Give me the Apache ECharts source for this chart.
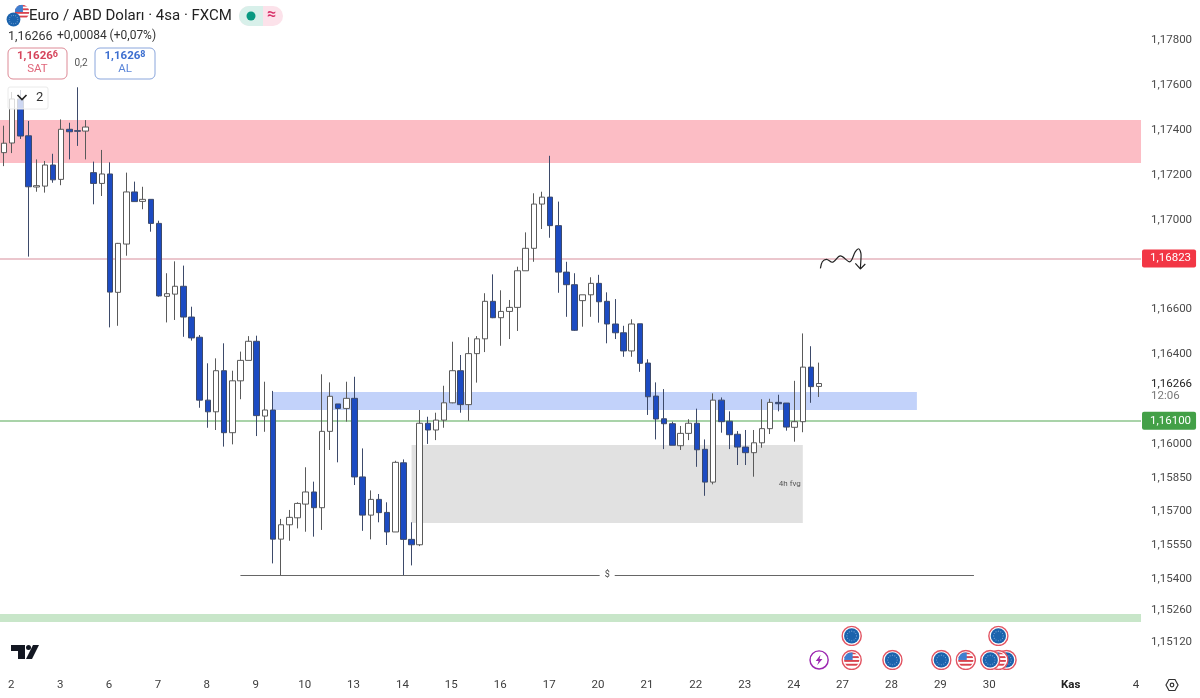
<!DOCTYPE html>
<html><head><meta charset="utf-8">
<style>html,body{margin:0;padding:0;background:#fff}#c{width:1200px;height:698px}</style>
<script src="https://cdn.jsdelivr.net/npm/echarts@6/dist/echarts.min.js"></script>
</head><body><div id="c"></div>
<script>
// [open, close, low, high]
var candles = [
[1.17294,1.17336,1.17234,1.17414],[1.17337,1.17533,1.17292,1.17564],[1.17533,1.17368,1.17355,1.17573],[1.17369,1.17142,1.16831,1.17435],
[1.17141,1.17147,1.17120,1.17264],[1.17145,1.17239,1.17116,1.17257],[1.17239,1.17173,1.17160,1.17289],[1.17175,1.17398,1.17149,1.17442],
[1.17398,1.17387,1.17264,1.17427],[1.17392,1.17389,1.17324,1.17585],[1.17390,1.17408,1.17264,1.17439],[1.17205,1.17157,1.17064,1.17254],
[1.17157,1.17199,1.17101,1.17306],[1.17199,1.16673,1.16516,1.17251],[1.16672,1.16890,1.16523,1.16892],[1.16887,1.17119,1.16835,1.17205],
[1.17119,1.17076,1.17076,1.17165],[1.17077,1.17086,1.17042,1.17142],[1.17086,1.16979,1.16942,1.17086],[1.16979,1.16656,1.16653,1.16991],
[1.16654,1.16666,1.16538,1.16757],[1.16664,1.16699,1.16549,1.16810],[1.16699,1.16562,1.16474,1.16791],[1.16562,1.16469,1.16457,1.16608],
[1.16472,1.16192,1.16158,1.16482],[1.16192,1.16140,1.16069,1.16356],[1.16140,1.16323,1.16059,1.16378],[1.16323,1.16047,1.15985,1.16445],
[1.16047,1.16278,1.15995,1.16323],[1.16278,1.16369,1.16196,1.16408],[1.16369,1.16454,1.16369,1.16477],[1.16454,1.16123,1.16032,1.16479],
[1.16121,1.16148,1.16051,1.16274],[1.16148,1.15573,1.15465,1.16233],[1.15573,1.15637,1.15413,1.15663],[1.15637,1.15670,1.15566,1.15703],
[1.15668,1.15732,1.15621,1.15737],[1.15729,1.15783,1.15606,1.15893],[1.15783,1.15713,1.15584,1.15829],[1.15713,1.16053,1.15614,1.16307],
[1.16053,1.16209,1.15970,1.16271],[1.16175,1.16155,1.15915,1.16175],[1.16155,1.16200,1.16096,1.16274],[1.16200,1.15850,1.15814,1.16296],
[1.15850,1.15680,1.15610,1.15977],[1.15680,1.15750,1.15572,1.15790],[1.15750,1.15691,1.15648,1.15774],[1.15692,1.15605,1.15547,1.15737],
[1.15605,1.15915,1.15605,1.15922],[1.15913,1.15572,1.15413,1.15928],[1.15572,1.15548,1.15456,1.15648],[1.15548,1.16089,1.15542,1.16148],
[1.16089,1.16059,1.15997,1.16118],[1.16059,1.16103,1.16014,1.16136],[1.16103,1.16180,1.16069,1.16256],[1.16180,1.16323,1.16178,1.16452],
[1.16323,1.16172,1.16136,1.16393],[1.16172,1.16399,1.16100,1.16472],[1.16399,1.16465,1.16270,1.16477],[1.16465,1.16632,1.16406,1.16668],
[1.16632,1.16559,1.16557,1.16752],[1.16559,1.16587,1.16434,1.16681],[1.16587,1.16605,1.16464,1.16638],[1.16605,1.16768,1.16500,1.16786],
[1.16768,1.16868,1.16768,1.16939],[1.16868,1.17065,1.16808,1.17113],[1.17065,1.17096,1.16954,1.17120],[1.17096,1.16969,1.16915,1.17280],
[1.16969,1.16762,1.16670,1.17076],[1.16762,1.16706,1.16563,1.16808],[1.16706,1.16503,1.16500,1.16757],[1.16635,1.16661,1.16519,1.16661],
[1.16661,1.16712,1.16563,1.16739],[1.16712,1.16630,1.16537,1.16750],[1.16632,1.16531,1.16445,1.16672],[1.16531,1.16492,1.16464,1.16642],
[1.16492,1.16411,1.16385,1.16523],[1.16411,1.16531,1.16385,1.16552],[1.16532,1.16356,1.16318,1.16532],[1.16357,1.16207,1.16126,1.16374],
[1.16210,1.16108,1.16017,1.16271],[1.16109,1.16087,1.15974,1.16241],[1.16087,1.15991,1.15991,1.16096],[1.15989,1.16044,1.15970,1.16077],
[1.16044,1.16089,1.16014,1.16107],[1.16089,1.15971,1.15895,1.16154],[1.15973,1.15827,1.15766,1.16017],[1.15827,1.16192,1.15817,1.16222],
[1.16192,1.16096,1.16047,1.16204],[1.16098,1.16038,1.15974,1.16142],[1.16040,1.15983,1.15903,1.16054],[1.15983,1.15958,1.15903,1.16059],
[1.15958,1.16002,1.15851,1.16059],[1.16002,1.16065,1.15980,1.16196],[1.16065,1.16182,1.16041,1.16198],[1.16182,1.16176,1.16142,1.16216],
[1.16179,1.16072,1.16056,1.16179],[1.16071,1.16096,1.16007,1.16278],[1.16096,1.16339,1.16049,1.16489],[1.16339,1.16252,1.16180,1.16432],
[1.16253,1.16266,1.16206,1.16359]];
var slotCount = 140;
var tickLabels = ['2','3','6','7','8','9','10','13','14','15','16','17','20','21','22','23','24','27','28','29','30','Kas','4'];
var tickSlots  = [1,7,13,19,25,31,37,43,49,55,61,67,73,79,85,91,97,103,109,115,121,131,139];
var priceTicks = [1.178,1.176,1.174,1.172,1.170,1.166,1.164,1.16266,1.160,1.1585,1.157,1.1555,1.154,1.1526,1.1512];
var lastPrice = 1.16266, resistance = 1.16823, support = 1.16100, liquidity = 1.15413;
var redZone = [1.17248,1.17439], blueZone = [1.16148,1.16228], greyZone = [1.15645,1.15992], greenZone = [1.15204,1.15240];
var blueZoneSlots = [33,112], greyZoneSlots = [50,98], liquiditySlots = [29,119];
var scribbleSlots  = [100.16,100.4,100.9,101.6,102.6,103.75,104.45,104.85,105.15,105.06];
var scribblePrices = [1.16779,1.16808,1.16819,1.16806,1.16834,1.16808,1.16853,1.16866,1.16838,1.16779];
var arrowSlots  = [104.45,105.06,105.67];
var arrowPrices = [1.16801,1.16776,1.16798];
var eventSlots  = [100,104,104,109,115,118,123,122,121,122];
var eventPrices = [1.15035,1.15035,1.15142,1.15035,1.15035,1.15035,1.15035,1.15035,1.15035,1.15142];
var eventKinds  = ['bolt','us','eu','eu','eu','us','eu','us','eu','eu'];

function svg(s){return 'image://data:image/svg+xml;charset=utf-8,'+encodeURIComponent('<svg xmlns="http://www.w3.org/2000/svg" width="88" height="88" viewBox="0 0 44 44">'+s+'</svg>');}
var dots='';[[22,12],[27,13.4],[30.6,17],[32,22],[30.6,27],[27,30.6],[22,32],[17,30.6],[13.4,27],[12,22],[13.4,17],[17,13.4]].forEach(function(p){dots+='<circle cx="'+p[0]+'" cy="'+p[1]+'" r="1.2" fill="#7fa8d8"/>';});
var ring='<circle cx="22" cy="22" r="20" fill="#fff" stroke="#e25563" stroke-width="3"/>';
var euFace='<circle cx="22" cy="22" r="16" fill="#1b63ad"/>'+dots;
var usFace='<clipPath id="k"><circle cx="22" cy="22" r="16"/></clipPath><g clip-path="url(#k)"><rect x="0" y="0" width="44" height="44" fill="#fff"/><rect x="0" y="6" width="44" height="4" fill="#d9434e"/><rect x="0" y="14" width="44" height="4" fill="#d9434e"/><rect x="0" y="22" width="44" height="4" fill="#d9434e"/><rect x="0" y="30" width="44" height="4" fill="#d9434e"/><rect x="6" y="6" width="18" height="16" fill="#3f7fd0"/></g>';
var icons={
  eu:svg(ring+euFace),
  us:svg(ring+usFace),
  bolt:svg('<circle cx="22" cy="22" r="19" fill="#fff" stroke="#9c27b0" stroke-width="3"/><path d="M25 11 L15 24 H21 L18 33 L29 20 H23 Z" fill="#9c27b0"/>')
};
var usBare=svg(usFace), euBare=svg(euFace);

function comma(v){return v.toFixed(5).replace('.',',');}
var tickText={};tickSlots.forEach(function(s,i){tickText[s]=tickLabels[i];});
var categories=[];for(var i=0;i<slotCount;i++)categories.push(String(i));

var chart=echarts.init(document.getElementById('c'),null,{renderer:'canvas'});
var FF='Roboto, sans-serif';
function scatterData(){return eventSlots.map(function(s,i){return {value:[s,eventPrices[i]],symbol:icons[eventKinds[i]]};});}
chart.setOption({
  animation:false,backgroundColor:'#ffffff',
  textStyle:{fontFamily:FF},
  grid:{left:-1.38,top:0,width:1142.4,height:672,containLabel:false},
  xAxis:[{type:'category',data:categories,boundaryGap:true,
      axisLine:{show:false},axisTick:{show:false},splitLine:{show:false},
      axisLabel:{interval:0,margin:7,fontSize:11.5,color:'#3d3d3d',fontFamily:FF,hideOverlap:false,padding:[0,2,0,0],
        formatter:function(v,idx){var t=tickText[idx];if(!t)return '';return t==='Kas'?'{b|Kas}':t;},
        rich:{b:{fontWeight:'bold',fontSize:11.5,color:'#222',fontFamily:FF}}}},
    {type:'value',min:-0.5,max:139.5,show:false}],
  yAxis:{type:'value',position:'right',min:1.149814,max:1.179737,scale:true,
    axisLine:{show:false},axisTick:{show:false},splitLine:{show:false},
    axisLabel:{customValues:priceTicks,margin:10,fontSize:11.5,fontFamily:FF,showMinLabel:true,showMaxLabel:true,
      color:function(v){return Math.abs(v-lastPrice)<1e-6?'#222':'#4a4a4a';},
      formatter:function(v){return '{v|'+comma(v)+'}';},
      rich:{v:{fontSize:11.5,fontFamily:FF,padding:[2,0,0,0]}}}},
  series:[
   {type:'candlestick',name:'EURUSD',data:candles,xAxisIndex:0,barWidth:6,z:3,
    itemStyle:{color:'#ffffff',color0:'#1c4bc2',borderColor:'#5a5a5a',borderColor0:'#3d4a6a',borderWidth:1},
    markArea:{silent:true,z:1,itemStyle:{opacity:1},data:[
      [{yAxis:redZone[1],itemStyle:{color:'#fcbdc5'}},{yAxis:redZone[0]}],
      [{xAxis:greyZoneSlots[0],yAxis:greyZone[1],itemStyle:{color:'#e1e1e1'},
        label:{show:true,formatter:'4h fvg',position:'insideRight',distance:2,fontSize:8,color:'#555',fontFamily:FF}},
       {xAxis:greyZoneSlots[1],yAxis:greyZone[0]}],
      [{xAxis:blueZoneSlots[0],yAxis:blueZone[1],itemStyle:{color:'#c2d2fa'}},{xAxis:blueZoneSlots[1],yAxis:blueZone[0]}],
      [{yAxis:greenZone[1],itemStyle:{color:'#c8e6c9'}},{yAxis:greenZone[0]}]
    ]},
    markLine:{silent:true,z:2,symbol:'none',precision:5,animation:false,data:[
      {yAxis:resistance,lineStyle:{color:'#e5b3bc',width:1.5,type:'solid'},
       label:{show:true,position:'end',distance:1,formatter:function(p){return comma(resistance);},backgroundColor:'#f23645',color:'#fff',fontSize:11.5,fontFamily:FF,padding:[3,5,3,8],borderRadius:2}},
      {yAxis:support,lineStyle:{color:'#8cc48c',width:1.5,type:'solid'},
       label:{show:true,position:'end',distance:1,formatter:function(p){return comma(support);},backgroundColor:'#43a047',color:'#fff',fontSize:11.5,fontFamily:FF,padding:[3,5,3,8],borderRadius:2}},
      [{xAxis:liquiditySlots[0],yAxis:liquidity,lineStyle:{color:'#666',width:1,type:'solid'},
        label:{show:true,position:'middle',distance:0,verticalAlign:'middle',formatter:'$',fontSize:9,color:'#444',backgroundColor:'#fff',padding:[1,5],fontFamily:FF}},
       {xAxis:liquiditySlots[1],yAxis:liquidity}]
    ]}},
   {type:'line',xAxisIndex:1,z:4,data:scribbleSlots.map(function(s,i){return [s,scribblePrices[i]];}),symbol:'none',smooth:0.35,lineStyle:{color:'#222',width:1.2}},
   {type:'line',xAxisIndex:1,z:4,data:arrowSlots.map(function(s,i){return [s,arrowPrices[i]];}),symbol:'none',lineStyle:{color:'#222',width:1.2}},
   {type:'scatter',xAxisIndex:1,z:5,symbolSize:21,data:scatterData(),itemStyle:{opacity:1}}
  ],
  graphic:[
    // pair logo
    {type:'image',z:20,style:{image:usBare.replace('image://',''),x:12,y:2,width:20,height:20}},
    {type:'image',z:21,style:{image:euBare.replace('image://',''),x:4,y:10,width:19,height:19}},
    {type:'text',z:20,style:{x:29,y:9,text:'Euro / ABD Dolar\u0131 \u00b7 4sa \u00b7 FXCM',font:'15px Roboto, sans-serif',fill:'#222'}},
    // status pill
    {type:'rect',z:20,shape:{x:239,y:6,width:44,height:20,r:10},style:{fill:'#fce2ea'}},
    {type:'rect',z:20,shape:{x:239,y:6,width:24,height:20,r:[10,0,0,10]},style:{fill:'#d8f0ea'}},
    {type:'circle',z:21,shape:{cx:251,cy:16,r:4.5},style:{fill:'#089981'}},
    {type:'text',z:21,style:{x:267,y:7,text:'\u2248',font:'bold 16px Roboto, "DejaVu Sans", sans-serif',fill:'#d8336a'}},
    {type:'text',z:20,style:{x:8,y:30,text:'1,16266',font:'12.5px Roboto, sans-serif',fill:'#333'}},
    {type:'text',z:20,style:{x:57,y:30,text:'+0,00084 (+0,07%)',font:'12px Roboto, sans-serif',fill:'#333'}},
    // sell box
    {type:'rect',z:20,shape:{x:8,y:48,width:59,height:31,r:5},style:{fill:'#fff',stroke:'#dd8a96',lineWidth:1}},
    {type:'text',z:21,style:{x:37.5,y:50,align:'center',text:'{a|1,1626}{b|6}',rich:{a:{font:'bold 11.5px Roboto, sans-serif',fill:'#d6455c'},b:{font:'bold 9px Roboto, sans-serif',fill:'#d6455c',verticalAlign:'top'}}}},
    {type:'text',z:21,style:{x:37.5,y:63,align:'center',text:'SAT',font:'11.5px Roboto, sans-serif',fill:'#e0667a'}},
    {type:'text',z:20,style:{x:81,y:58,align:'center',text:'0,2',font:'10px Roboto, sans-serif',fill:'#555'}},
    // buy box
    {type:'rect',z:20,shape:{x:95,y:48,width:60,height:31,r:5},style:{fill:'#fff',stroke:'#8aa6dc',lineWidth:1}},
    {type:'text',z:21,style:{x:125,y:50,align:'center',text:'{a|1,1626}{b|8}',rich:{a:{font:'bold 11.5px Roboto, sans-serif',fill:'#3d6fd0'},b:{font:'bold 9px Roboto, sans-serif',fill:'#3d6fd0',verticalAlign:'top'}}}},
    {type:'text',z:21,style:{x:125,y:63,align:'center',text:'AL',font:'11.5px Roboto, sans-serif',fill:'#5a85d8'}},
    // collapse box
    {type:'rect',z:30,shape:{x:8,y:87,width:40,height:22,r:2},style:{fill:'rgba(255,255,255,0.78)',stroke:'#eaeaea',lineWidth:1}},
    {type:'polyline',z:31,shape:{points:[[17.5,95],[22,99.5],[26.5,95]]},style:{fill:'none',stroke:'#222',lineWidth:1.6}},
    {type:'text',z:31,style:{x:36,y:91,text:'2',font:'13px Roboto, sans-serif',fill:'#333'}},
    // countdown
    {type:'text',z:20,style:{x:1151,y:390,text:'12:06',font:'11.5px Roboto, sans-serif',fill:'#777'}},
    // TV logo
    {type:'polygon',z:20,shape:{points:[[11,645],[25,645],[25,659],[18,659],[18,651],[11,651]]},style:{fill:'#131722'}},
    {type:'circle',z:20,shape:{cx:28.5,cy:647.5,r:2.5},style:{fill:'#131722'}},
    {type:'polygon',z:20,shape:{points:[[33,645],[39,645],[32,659],[26,659]]},style:{fill:'#131722'}},
    // settings hexagon
    {type:'polygon',z:20,shape:{points:[[1166,685],[1169,679.5],[1175,679.5],[1178,685],[1175,690.5],[1169,690.5]]},style:{fill:'none',stroke:'#333',lineWidth:1.2}},
    {type:'circle',z:20,shape:{cx:1172,cy:685,r:1.8},style:{fill:'none',stroke:'#333',lineWidth:1.2}}
  ]
});
</script></body></html>
